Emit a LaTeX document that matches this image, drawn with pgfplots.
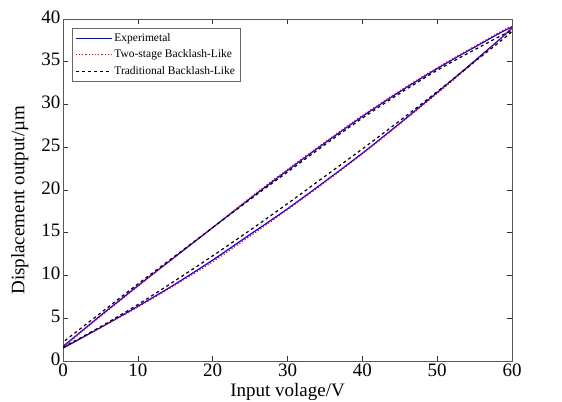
\documentclass[border=0pt]{standalone}
\usepackage{fontspec}
\setmainfont{Liberation Serif}
\usepackage{pgfplots}
\pgfplotsset{compat=1.18}

\begin{document}
\begin{tikzpicture}
\begin{axis}[
  scale only axis,
  width=449pt, height=342pt,
  xmin=0, xmax=60, ymin=0, ymax=40,
  xtick={0,10,...,60}, ytick={0,5,...,40},
  tick align=inside,
  major tick length=5pt,
  tick style={black!80, line width=0.6pt},
  axis line style={line width=0.8pt, black!65},
  /pgf/number format/assume math mode=true,
  ticklabel style={font=\fontsize{19}{20}\selectfont},
  xticklabel style={yshift=1pt},
  yticklabel style={xshift=1pt, yshift=2pt},
  xlabel={Input volage/V},
  ylabel={Displacement output/\textmu m},
  label style={font=\fontsize{19}{20}\selectfont},
  xlabel style={at={(axis description cs:0.5,0)}, anchor=north, yshift=-19pt},
  ylabel style={at={(axis description cs:-0.096,0.47)}, anchor=center},
  legend style={at={(0.02,0.973)}, anchor=north west, draw=black!60,
                font=\fontsize{11.5}{13}\selectfont, row sep=3pt,
                inner xsep=3pt, inner ysep=3pt},
  legend cell align=left,
  legend image code/.code={\draw[#1] (0pt,0pt) -- (36pt,0pt);},
]
\coordinate (bl) at (rel axis cs:0,0);
\coordinate (tr) at (rel axis cs:1,1);
% Experimental (blue solid)
\addplot[blue, line width=1.2pt, smooth] coordinates {
  (0,1.5) (5,3.9) (10,6.4) (15,9.0) (20,11.8) (25,14.8) (30,17.8) (35,21.0)
  (40,24.3) (45,27.8) (50,31.4) (55,35.1) (60,39.0)
  (55,36.7) (50,34.2) (45,31.5) (40,28.6) (35,25.5) (30,22.3) (25,19.0)
  (20,15.6) (15,12.2) (10,8.8) (5,5.3) (0,1.7)
};
% Two-stage backlash-like (red dotted)
\addplot[red, line width=1.2pt, dotted, smooth] coordinates {
  (0,1.6) (5,3.9) (10,6.3) (15,8.9) (20,11.6) (25,14.6) (30,17.7) (35,20.9)
  (40,24.2) (45,27.7) (50,31.3) (55,35.0) (60,39.1)
  (55,36.8) (50,34.3) (45,31.6) (40,28.7) (35,25.6) (30,22.4) (25,19.1)
  (20,15.6) (15,12.2) (10,8.7) (5,5.2) (0,1.6)
};
% Traditional backlash-like (black dashed)
\addplot[black, line width=1.2pt, dashed, smooth] coordinates {
  (0,1.6) (5,4.0) (10,6.6) (15,9.4) (20,12.3) (25,15.3) (30,18.4) (35,21.6)
  (40,24.8) (45,28.1) (50,31.5) (55,35.0) (60,38.6)
  (55,36.4) (50,34.0) (45,31.3) (40,28.4) (35,25.3) (30,22.1) (25,18.9)
  (20,15.6) (15,12.3) (10,9.0) (5,5.6) (0,2.2)
};
\legend{Experimetal, Two-stage Backlash-Like, Traditional Backlash-Like}
\end{axis}
\pgfresetboundingbox
\useasboundingbox ([xshift=-63pt,yshift=-40pt]bl) rectangle ([xshift=50pt,yshift=19pt]tr);
\end{tikzpicture}
\end{document}
